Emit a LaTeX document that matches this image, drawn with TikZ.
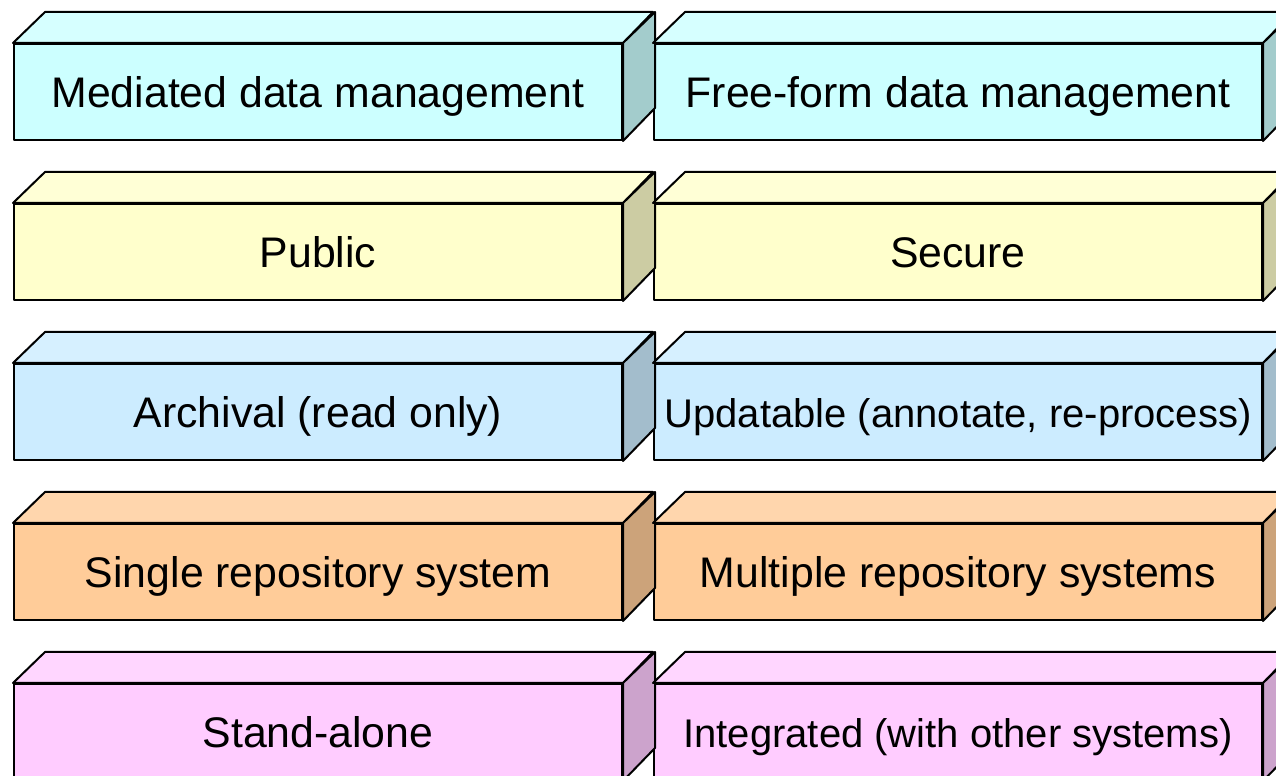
\documentclass[tikz,border=0pt]{standalone}
\usepackage{fontspec}
\setmainfont{Liberation Sans}
\definecolor{rowA}{HTML}{CCFFFF}
\definecolor{rowB}{HTML}{FFFFCC}
\definecolor{rowC}{HTML}{CCECFF}
\definecolor{rowD}{HTML}{FFCC99}
\definecolor{rowE}{HTML}{FFCCFF}
\tikzset{
  face/.style={draw=black, line width=1pt, line join=round},
  front/.style={face, minimum width=304pt, minimum height=48pt, inner sep=0pt,
    text height=15.4pt, text depth=0pt, font=\fontsize{21.4}{25}\selectfont},
  small/.style={font=\fontsize{20}{24}\selectfont},
}
\begin{document}
\begin{tikzpicture}
\useasboundingbox (0,0) rectangle (638pt,388pt);
% one row of two slabs per entry
\foreach \i/\c/\ltext/\rtext/\rstyle in {
    1/rowA/{Mediated data management}/{Free-form data management}/front,
    2/rowB/{Public}/{Secure}/front,
    3/rowC/{Archival (read only)}/{Updatable (annotate, re-process)}/small,
    4/rowD/{Single repository system}/{Multiple repository systems}/front,
    5/rowE/{Stand-alone}/{Integrated (with other systems)}/small}{
  \pgfmathsetlengthmacro\yy{422pt-80pt*\i}
  \node[front, fill=\c] (L\i) at (159pt,\yy) {\ltext};
  \node[front, \rstyle, fill=\c] (R\i) at (479pt,\yy) {\rtext};
  \foreach \s in {L,R}{
    \draw[face, fill=\c!80!white] (\s\i.north west) -- ++(16pt,15.5pt)
      -- ++(304pt,0) -- (\s\i.north east) -- cycle;
    \draw[face, fill=\c!80!black] (\s\i.north east) -- ++(16pt,15.5pt)
      -- ++(0,-48pt) -- (\s\i.south east) -- cycle;
  }
}
\end{tikzpicture}
\end{document}
